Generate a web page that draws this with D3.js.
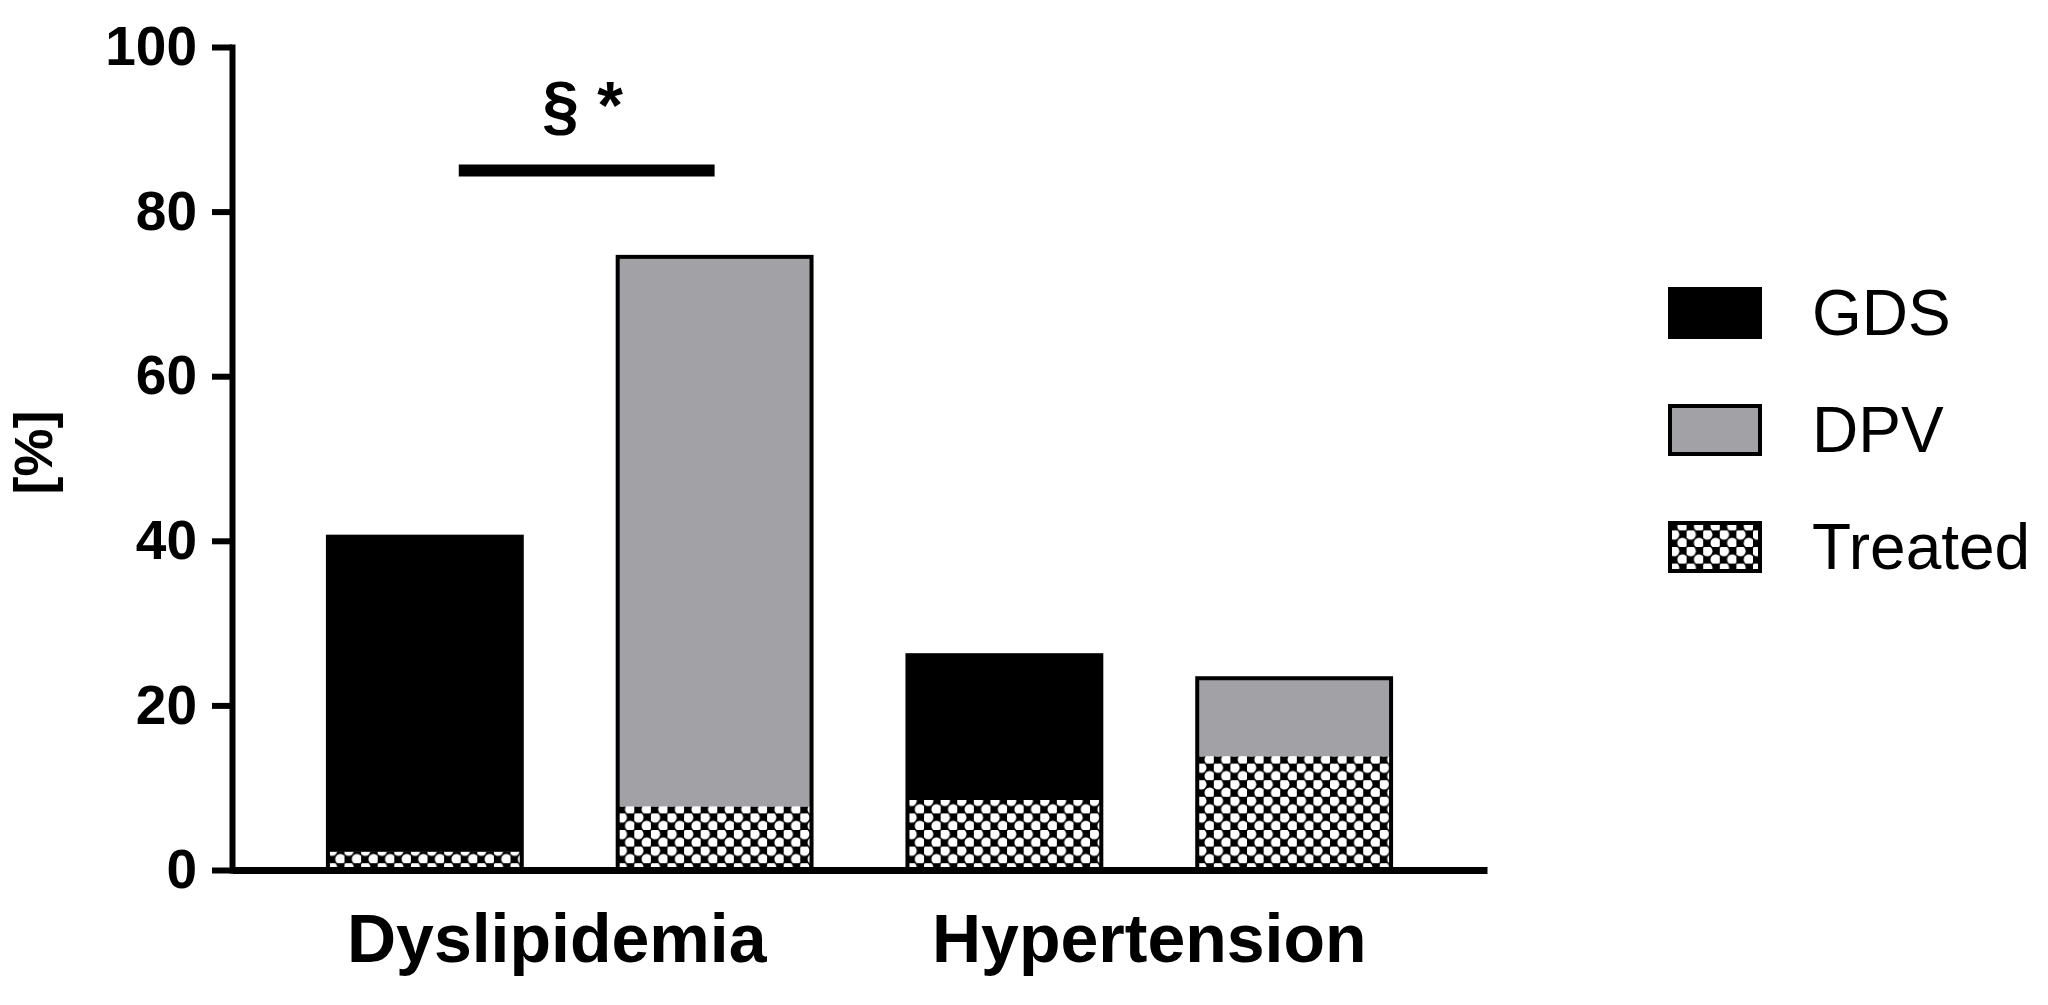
<!DOCTYPE html>
<html>
<head>
<meta charset="utf-8">
<script src="https://cdn.jsdelivr.net/npm/d3@7"></script>
<style>
    body { margin: 0; background: #fff; }
    svg { display: block; font-family: 'Liberation Sans', Arial, sans-serif; }
</style>
</head>
<body>
<svg id="chart" width="2048" height="1005"></svg>
<script>
// categories and series
const categories = ['Dyslipidemia', 'Hypertension']
const groups = ['GDS', 'DPV']
const totalGDS = [40.5, 26.1]
const totalDPV = [74.5, 23.3]
const treatedGDS = [2.2, 8.5]
const treatedDPV = [7.7, 13.8]
const yTicks = [0, 20, 40, 60, 80, 100]
const legendItems = ['GDS', 'DPV', 'Treated']
const sigLabel = '§ *'
const sigValue = 85

const fills = { GDS: '#000', DPV: '#a2a1a6', Treated: 'url(#checker)' }

const svg = d3.select('#chart')

// 棋盘格图案
const cell = 8.3
const pat = svg.append('defs').append('pattern')
    .attr('id', 'checker')
    .attr('patternUnits', 'userSpaceOnUse')
    .attr('width', cell * 2)
    .attr('height', cell * 2)
pat.append('rect').attr('width', cell * 2).attr('height', cell * 2).attr('fill', '#000')
pat.selectAll('circle')
    .data([[cell / 2, cell / 2], [cell * 1.5, cell * 1.5]])
    .join('circle')
    .attr('cx', d => d[0])
    .attr('cy', d => d[1])
    .attr('r', cell * 0.62)
    .attr('fill', '#fff')

const y = d3.scaleLinear().domain([0, 100]).range([870, 47])
const x0 = d3.scaleBand().domain(categories).range([232, 1487])
    .paddingInner(0.1655).paddingOuter(0.1655)
const x1 = d3.scaleBand().domain(groups).range([0, x0.bandwidth()])
    .paddingInner(0.331)

const rows = []
categories.forEach((c, i) => {
    rows.push({ cat: c, grp: 'GDS', total: totalGDS[i], treated: treatedGDS[i] })
    rows.push({ cat: c, grp: 'DPV', total: totalDPV[i], treated: treatedDPV[i] })
})

const bars = svg.append('g').selectAll('g')
    .data(rows)
    .join('g')
    .attr('transform', d => `translate(${x0(d.cat) + x1(d.grp)},0)`)

// 上半部分
bars.append('rect')
    .attr('width', x1.bandwidth())
    .attr('y', d => y(d.total))
    .attr('height', d => y(d.treated) - y(d.total))
    .attr('fill', d => fills[d.grp])

// treated 部分
bars.append('rect')
    .attr('width', x1.bandwidth())
    .attr('y', d => y(d.treated))
    .attr('height', d => y(0) - y(d.treated))
    .attr('fill', fills.Treated)

// 外框
bars.append('rect')
    .attr('width', x1.bandwidth())
    .attr('y', d => y(d.total))
    .attr('height', d => y(0) - y(d.total))
    .attr('fill', 'none')
    .attr('stroke', '#000')
    .attr('stroke-width', 4)

// y axis
const yAxis = svg.append('g')
    .attr('transform', 'translate(232,0)')
    .call(d3.axisLeft(y).tickValues(yTicks).tickSize(20).tickSizeOuter(0).tickPadding(15))
yAxis.select('.domain').attr('stroke-width', 6).attr('stroke-linecap', 'square')
yAxis.selectAll('.tick line').attr('stroke-width', 6)
yAxis.selectAll('.tick text')
    .attr('font-family', "'Liberation Sans', Arial, sans-serif")
    .attr('font-size', 55)
    .attr('font-weight', 'bold')
    .attr('fill', '#000')

// x axis
const xAxis = svg.append('g')
    .attr('transform', `translate(0,${y(0)})`)
    .call(d3.axisBottom(x0).tickSize(0).tickSizeOuter(0).tickPadding(44))
xAxis.select('.domain').attr('stroke-width', 7)
xAxis.selectAll('.tick text')
    .attr('font-family', "'Liberation Sans', Arial, sans-serif")
    .attr('font-size', 68)
    .attr('font-weight', 'bold')
    .attr('fill', '#000')
    .attr('dx', (d, i) => i === 0 ? -13 : 0)

// y label
svg.append('text')
    .attr('transform', `translate(52,${(y(0) + y(100)) / 2 - 6}) rotate(-90)`)
    .attr('text-anchor', 'middle')
    .attr('font-size', 54)
    .attr('font-weight', 'bold')
    .text('[%]')

// 显著性标记
const sx1 = x0(categories[0]) + x1('GDS') + x1.bandwidth() * 0.675
const sx2 = x0(categories[0]) + x1('DPV') + x1.bandwidth() / 2
svg.append('line')
    .attr('x1', sx1).attr('x2', sx2)
    .attr('y1', y(sigValue)).attr('y2', y(sigValue))
    .attr('stroke', '#000')
    .attr('stroke-width', 12)
svg.append('text')
    .attr('x', (sx1 + sx2) / 2 - 4)
    .attr('y', y(sigValue) - 42)
    .attr('text-anchor', 'middle')
    .attr('font-size', 66)
    .attr('font-weight', 'bold')
    .text(sigLabel)

// legend
const legend = svg.append('g').selectAll('g')
    .data(legendItems)
    .join('g')
    .attr('transform', (d, i) => `translate(1670,${313 + i * 117})`)
legend.append('rect')
    .attr('y', -24)
    .attr('width', 90)
    .attr('height', 48)
    .attr('fill', d => fills[d])
    .attr('stroke', '#000')
    .attr('stroke-width', 4)
legend.append('text')
    .attr('x', 142)
    .attr('y', 22)
    .attr('font-size', 64)
    .text(d => d)
</script>
</body>
</html>
